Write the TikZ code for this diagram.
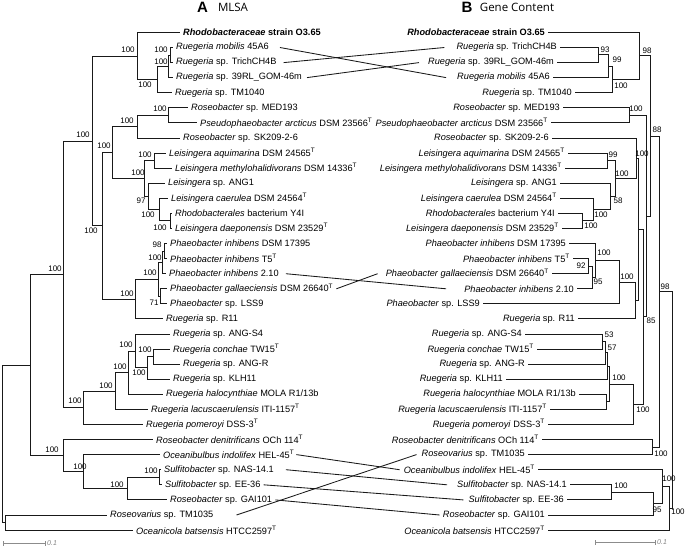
\documentclass[tikz,border=0pt]{standalone}
\usepackage{fontspec}
\setmainfont{Liberation Sans}
\newfontfamily\titlefont{Open Sans}
\newcommand{\Ty}{\textsuperscript{T}}
\begin{document}
\begin{tikzpicture}[x=1pt,y=-1pt,
  br/.style={line width=0.85pt, draw=black!90},
  cross/.style={line width=0.85pt, draw=black!90},
  lfl/.style={anchor=west, inner sep=0pt, xshift=3pt, font=\fontsize{9.2}{10}\selectfont},
  lfr/.style={anchor=east, inner sep=0pt, xshift=-3pt, font=\fontsize{9.2}{10}\selectfont},
  bs/.style={inner sep=0pt, font=\fontsize{8}{9}\selectfont},
  sbar/.style={line width=0.75pt, draw=black!45},
  sbl/.style={anchor=west, inner sep=0pt, font=\fontsize{7}{8}\selectfont\itshape, text=black!50}]
\useasboundingbox (0,0) rectangle (685,547);
% titles
\node[inner sep=0pt, font=\fontsize{15}{16}\selectfont\bfseries] (tA) at (202.5,7) {A};
\node[inner sep=0pt, font=\titlefont\fontsize{11.5}{12}\selectfont] (tAt) at (233,7.5) {MLSA};
\node[inner sep=0pt, font=\fontsize{15}{16}\selectfont\bfseries] (tB) at (467,7) {B};
\node[inner sep=0pt, font=\titlefont\fontsize{11.5}{12}\selectfont] (tBt) at (517,7.5) {Gene Content};

% ---------------- LEFT TREE (MLSA) ----------------
\coordinate (a1) at (170,55.0);
\coordinate (a2) at (168,66.3);
\coordinate (a3) at (157,79.5);
\coordinate (a4) at (137,56.0);
\coordinate (a5) at (168,115.3);
\coordinate (a6) at (137,126.7);
\coordinate (a7) at (154,160.6);
\coordinate (a8) at (170,220.9);
\coordinate (a9) at (159,209.6);
\coordinate (a10) at (148,196.4);
\coordinate (a11) at (144,178.5);
\coordinate (a12) at (112,152.6);
\coordinate (a13) at (164,251.0);
\coordinate (a14) at (162,262.4);
\coordinate (a15) at (160,296.3);
\coordinate (a16) at (158,279.3);
\coordinate (a17) at (135,299.1);
\coordinate (a18) at (102,225.9);
\coordinate (a19) at (92,141.0);
\coordinate (a20) at (153,356.6);
\coordinate (a21) at (147,367.9);
\coordinate (a22) at (135,351.0);
\coordinate (a23) at (128,372.7);
\coordinate (a24) at (115,391.0);
\coordinate (a25) at (83,407.8);
\coordinate (a26) at (63,274.4);
\coordinate (a27) at (159,477.2);
\coordinate (a28) at (127,488.6);
\coordinate (a29) at (83,471.6);
\coordinate (a30) at (63,455.6);
\coordinate (a31) at (30,365.0);
\coordinate (a32) at (5,522.5);
\coordinate (a33) at (2,443.7);

\coordinate (tL0) at (180,32.4);
\coordinate (tL1) at (173,47.5);
\coordinate (tL2) at (173,62.6);
\coordinate (tL3) at (173,77.6);
\coordinate (tL4) at (172,92.7);
\coordinate (tL5) at (188,107.8);
\coordinate (tL6) at (197,122.9);
\coordinate (tL7) at (180,138.0);
\coordinate (tL8) at (166,153.0);
\coordinate (tL9) at (172,168.1);
\coordinate (tL10) at (165,183.2);
\coordinate (tL11) at (168,198.3);
\coordinate (tL12) at (172,213.4);
\coordinate (tL13) at (172,228.4);
\coordinate (tL14) at (167,243.5);
\coordinate (tL15) at (167,258.6);
\coordinate (tL16) at (166,273.7);
\coordinate (tL17) at (167,288.8);
\coordinate (tL18) at (167,303.8);
\coordinate (tL19) at (163,318.9);
\coordinate (tL20) at (170,334.0);
\coordinate (tL21) at (170,349.1);
\coordinate (tL22) at (180,364.2);
\coordinate (tL23) at (170,379.2);
\coordinate (tL24) at (163,394.3);
\coordinate (tL25) at (148,409.4);
\coordinate (tL26) at (143,424.5);
\coordinate (tL27) at (153,439.6);
\coordinate (tL28) at (160,454.6);
\coordinate (tL29) at (161,469.7);
\coordinate (tL30) at (162,484.8);
\coordinate (tL31) at (167,499.9);
\coordinate (tL32) at (107,515.0);
\coordinate (tL33) at (133,530.0);

\draw[br] (a1) |- (tL1); \draw[br] (a1) |- (tL2);
\draw[br] (a2) |- (a1);  \draw[br] (a2) |- (tL3);
\draw[br] (a3) |- (a2);  \draw[br] (a3) |- (tL4);
\draw[br] (a4) |- (tL0); \draw[br] (a4) |- (a3);
\draw[br] (a5) |- (tL5); \draw[br] (a5) |- (tL6);
\draw[br] (a6) |- (a5);  \draw[br] (a6) |- (tL7);
\draw[br] (a7) |- (tL8); \draw[br] (a7) |- (tL9);
\draw[br] (a8) |- (tL12); \draw[br] (a8) |- (tL13);
\draw[br] (a9) |- (tL11); \draw[br] (a9) |- (a8);
\draw[br] (a10) |- (tL10); \draw[br] (a10) |- (a9);
\draw[br] (a11) |- (a7); \draw[br] (a11) |- (a10);
\draw[br] (a12) |- (a6); \draw[br] (a12) |- (a11);
\draw[br] (a13) |- (tL14); \draw[br] (a13) |- (tL15);
\draw[br] (a14) |- (a13); \draw[br] (a14) |- (tL16);
\draw[br] (a15) |- (tL17); \draw[br] (a15) |- (tL18);
\draw[br] (a16) |- (a14); \draw[br] (a16) |- (a15);
\draw[br] (a17) |- (a16); \draw[br] (a17) |- (tL19);
\draw[br] (a18) |- (a12); \draw[br] (a18) |- (a17);
\draw[br] (a19) |- (a4); \draw[br] (a19) |- (a18);
\draw[br] (a20) |- (tL21); \draw[br] (a20) |- (tL22);
\draw[br] (a21) |- (a20); \draw[br] (a21) |- (tL23);
\draw[br] (a22) |- (tL20); \draw[br] (a22) |- (a21);
\draw[br] (a23) |- (a22); \draw[br] (a23) |- (tL24);
\draw[br] (a24) |- (a23); \draw[br] (a24) |- (tL25);
\draw[br] (a25) |- (a24); \draw[br] (a25) |- (tL26);
\draw[br] (a26) |- (a19); \draw[br] (a26) |- (a25);
\draw[br] (a27) |- (tL29); \draw[br] (a27) |- (tL30);
\draw[br] (a28) |- (a27); \draw[br] (a28) |- (tL31);
\draw[br] (a29) |- (tL28); \draw[br] (a29) |- (a28);
\draw[br] (a30) |- (tL27); \draw[br] (a30) |- (a29);
\draw[br] (a31) |- (a26); \draw[br] (a31) |- (a30);
\draw[br] (a32) |- (tL32); \draw[br] (a32) |- (tL33);
\draw[br] (a33) |- (a31); \draw[br] (a33) |- (a32);

\node[lfl] (L0) at (tL0) {\textbf{\textit{Rhodobacteraceae} strain O3.65}};
\node[lfl] (L1) at (tL1) {\textit{Ruegeria mobilis} 45A6};
\node[lfl] (L2) at (tL2) {\textit{Ruegeria} sp. TrichCH4B};
\node[lfl] (L3) at (tL3) {\textit{Ruegeria} sp. 39RL\_GOM-46m};
\node[lfl] (L4) at (tL4) {\textit{Ruegeria} sp. TM1040};
\node[lfl] (L5) at (tL5) {\textit{Roseobacter} sp. MED193};
\node[lfl] (L6) at (tL6) {\textit{Pseudophaeobacter arcticus} DSM 23566\Ty};
\node[lfl] (L7) at (tL7) {\textit{Roseobacter} sp. SK209-2-6};
\node[lfl] (L8) at (tL8) {\textit{Leisingera aquimarina} DSM 24565\Ty};
\node[lfl] (L9) at (tL9) {\textit{Leisingera methylohalidivorans} DSM 14336\Ty};
\node[lfl] (L10) at (tL10) {\textit{Leisingera} sp. ANG1};
\node[lfl] (L11) at (tL11) {\textit{Leisingera caerulea} DSM 24564\Ty};
\node[lfl] (L12) at (tL12) {\textit{Rhodobacterales} bacterium Y4I};
\node[lfl] (L13) at (tL13) {\textit{Leisingera daeponensis} DSM 23529\Ty};
\node[lfl] (L14) at (tL14) {\textit{Phaeobacter inhibens} DSM 17395};
\node[lfl] (L15) at (tL15) {\textit{Phaeobacter inhibens} T5\Ty};
\node[lfl] (L16) at (tL16) {\textit{Phaeobacter inhibens} 2.10};
\node[lfl] (L17) at (tL17) {\textit{Phaeobacter gallaeciensis} DSM 26640\Ty};
\node[lfl] (L18) at (tL18) {\textit{Phaeobacter} sp. LSS9};
\node[lfl] (L19) at (tL19) {\textit{Ruegeria} sp. R11};
\node[lfl] (L20) at (tL20) {\textit{Ruegeria} sp. ANG-S4};
\node[lfl] (L21) at (tL21) {\textit{Ruegeria conchae} TW15\Ty};
\node[lfl] (L22) at (tL22) {\textit{Ruegeria} sp. ANG-R};
\node[lfl] (L23) at (tL23) {\textit{Ruegeria} sp. KLH11};
\node[lfl] (L24) at (tL24) {\textit{Ruegeria halocynthiae} MOLA R1/13b};
\node[lfl] (L25) at (tL25) {\textit{Ruegeria lacuscaerulensis} ITI-1157\Ty};
\node[lfl] (L26) at (tL26) {\textit{Ruegeria pomeroyi} DSS-3\Ty};
\node[lfl] (L27) at (tL27) {\textit{Roseobacter denitrificans} OCh 114\Ty};
\node[lfl] (L28) at (tL28) {\textit{Oceanibulbus indolifex} HEL-45\Ty};
\node[lfl] (L29) at (tL29) {\textit{Sulfitobacter} sp. NAS-14.1};
\node[lfl] (L30) at (tL30) {\textit{Sulfitobacter} sp. EE-36};
\node[lfl] (L31) at (tL31) {\textit{Roseobacter} sp. GAI101};
\node[lfl] (L32) at (tL32) {\textit{Roseovarius} sp. TM1035};
\node[lfl] (L33) at (tL33) {\textit{Oceanicola batsensis} HTCC2597\Ty};

% left bootstrap values
\node[bs] (p4) at (128,50) {100};
\node[bs] (p1) at (161,50) {100};
\node[bs] (p2) at (161,62) {100};
\node[bs] (p3) at (145,85) {100};
\node[bs] (p19) at (83,135) {100};
\node[bs] (p6) at (127,121) {100};
\node[bs] (p5) at (160,109) {100};
\node[bs] (p12) at (104,146) {100};
\node[bs] (p7) at (145,155) {100};
\node[bs] (p11) at (138,173) {100};
\node[bs] (p10) at (141,201) {97};
\node[bs] (p9) at (148,215) {100};
\node[bs] (p8) at (160,228) {100};
\node[bs] (p13) at (157,245) {98};
\node[bs] (p14) at (155,258) {100};
\node[bs] (p16) at (150,273) {100};
\node[bs] (p15) at (154,303) {71};
\node[bs] (p17) at (127,294) {100};
\node[bs] (p18) at (91,231) {100};
\node[bs] (p26) at (55,269) {100};
\node[bs] (p25) at (75,401) {100};
\node[bs] (p24) at (106,386) {100};
\node[bs] (p23) at (120,367) {100};
\node[bs] (p22) at (126,345) {100};
\node[bs] (p20) at (145,350) {100};
\node[bs] (p21) at (139,373) {100};
\node[bs] (p30) at (52,450) {100};
\node[bs] (p29) at (80,467) {100};
\node[bs] (p28) at (117,485) {100};
\node[bs] (p27) at (151,471) {100};

% ---------------- RIGHT TREE (Gene content) ----------------
\coordinate (b1) at (598,54.7);
\coordinate (b2) at (608,66.0);
\coordinate (b3) at (612,79.3);
\coordinate (b4) at (639,55.9);
\coordinate (b5) at (629,115.3);
\coordinate (b6) at (607,160.6);
\coordinate (b7) at (582,220.9);
\coordinate (b8) at (593,209.6);
\coordinate (b9) at (610,196.4);
\coordinate (b10) at (615,178.5);
\coordinate (b11) at (636,158.3);
\coordinate (b12) at (588,266.1);
\coordinate (b13) at (592,277.4);
\coordinate (b14) at (595,260.5);
\coordinate (b15) at (619,282.2);
\coordinate (b16) at (635,300.5);
\coordinate (b17) at (638,229.4);
\coordinate (b18) at (602,341.5);
\coordinate (b19) at (605,352.8);
\coordinate (b20) at (607,366.0);
\coordinate (b21) at (606,401.9);
\coordinate (b22) at (609,384.0);
\coordinate (b23) at (633,404.2);
\coordinate (b24) at (643,316.8);
\coordinate (b25) at (646,216.0);
\coordinate (b26) at (650,136.0);
\coordinate (b27) at (652,447.1);
\coordinate (b28) at (659,291.5);
\coordinate (b29) at (611,492.3);
\coordinate (b30) at (653,503.6);
\coordinate (b31) at (662,486.7);
\coordinate (b32) at (669,508.4);
\coordinate (b33) at (672,400.0);

\coordinate (tR0) at (548,32.4);
\coordinate (tR1) at (560,47.5);
\coordinate (tR2) at (557,62.6);
\coordinate (tR3) at (553,77.6);
\coordinate (tR4) at (575,92.7);
\coordinate (tR5) at (563,107.8);
\coordinate (tR6) at (551,122.9);
\coordinate (tR7) at (552,138.0);
\coordinate (tR8) at (568,153.0);
\coordinate (tR9) at (565,168.1);
\coordinate (tR10) at (560,183.2);
\coordinate (tR11) at (560,198.3);
\coordinate (tR12) at (558,213.4);
\coordinate (tR13) at (562,228.4);
\coordinate (tR14) at (569,243.5);
\coordinate (tR15) at (573,258.6);
\coordinate (tR16) at (552,273.7);
\coordinate (tR17) at (577,288.8);
\coordinate (tR18) at (483,303.8);
\coordinate (tR19) at (578,318.9);
\coordinate (tR20) at (525,334.0);
\coordinate (tR21) at (537,349.1);
\coordinate (tR22) at (528,364.2);
\coordinate (tR23) at (506,379.2);
\coordinate (tR24) at (579,394.3);
\coordinate (tR25) at (550,409.4);
\coordinate (tR26) at (548,424.5);
\coordinate (tR27) at (542,439.6);
\coordinate (tR28) at (528,454.6);
\coordinate (tR29) at (538,469.7);
\coordinate (tR30) at (570,484.8);
\coordinate (tR31) at (567,499.9);
\coordinate (tR32) at (548,515.0);
\coordinate (tR33) at (548,530.0);

\draw[br] (b1) |- (tR1); \draw[br] (b1) |- (tR2);
\draw[br] (b2) |- (b1);  \draw[br] (b2) |- (tR3);
\draw[br] (b3) |- (b2);  \draw[br] (b3) |- (tR4);
\draw[br] (b4) |- (tR0); \draw[br] (b4) |- (b3);
\draw[br] (b5) |- (tR5); \draw[br] (b5) |- (tR6);
\draw[br] (b6) |- (tR8); \draw[br] (b6) |- (tR9);
\draw[br] (b7) |- (tR12); \draw[br] (b7) |- (tR13);
\draw[br] (b8) |- (tR11); \draw[br] (b8) |- (b7);
\draw[br] (b9) |- (tR10); \draw[br] (b9) |- (b8);
\draw[br] (b10) |- (b6); \draw[br] (b10) |- (b9);
\draw[br] (b11) |- (tR7); \draw[br] (b11) |- (b10);
\draw[br] (b12) |- (tR15); \draw[br] (b12) |- (tR16);
\draw[br] (b13) |- (b12); \draw[br] (b13) |- (tR17);
\draw[br] (b14) |- (tR14); \draw[br] (b14) |- (b13);
\draw[br] (b15) |- (b14); \draw[br] (b15) |- (tR18);
\draw[br] (b16) |- (b15); \draw[br] (b16) |- (tR19);
\draw[br] (b17) |- (b11); \draw[br] (b17) |- (b16);
\draw[br] (b18) |- (tR20); \draw[br] (b18) |- (tR21);
\draw[br] (b19) |- (b18); \draw[br] (b19) |- (tR22);
\draw[br] (b20) |- (b19); \draw[br] (b20) |- (tR23);
\draw[br] (b21) |- (tR24); \draw[br] (b21) |- (tR25);
\draw[br] (b22) |- (b20); \draw[br] (b22) |- (b21);
\draw[br] (b23) |- (b22); \draw[br] (b23) |- (tR26);
\draw[br] (b24) |- (b17); \draw[br] (b24) |- (b23);
\draw[br] (b25) |- (b5); \draw[br] (b25) |- (b24);
\draw[br] (b26) |- (b4); \draw[br] (b26) |- (b25);
\draw[br] (b27) |- (tR27); \draw[br] (b27) |- (tR28);
\draw[br] (b28) |- (b26); \draw[br] (b28) |- (b27);
\draw[br] (b29) |- (tR30); \draw[br] (b29) |- (tR31);
\draw[br] (b30) |- (b29); \draw[br] (b30) |- (tR32);
\draw[br] (b31) |- (tR29); \draw[br] (b31) |- (b30);
\draw[br] (b32) |- (b31); \draw[br] (b32) |- (tR33);
\draw[br] (b33) |- (b28); \draw[br] (b33) |- (b32);

\node[lfr] (R0) at (tR0) {\textbf{\textit{Rhodobacteraceae} strain O3.65}};
\node[lfr] (R1) at (tR1) {\textit{Ruegeria} sp. TrichCH4B};
\node[lfr] (R2) at (tR2) {\textit{Ruegeria} sp. 39RL\_GOM-46m};
\node[lfr] (R3) at (tR3) {\textit{Ruegeria mobilis} 45A6};
\node[lfr] (R4) at (tR4) {\textit{Ruegeria} sp. TM1040};
\node[lfr] (R5) at (tR5) {\textit{Roseobacter} sp. MED193};
\node[lfr] (R6) at (tR6) {\textit{Pseudophaeobacter arcticus} DSM 23566\Ty};
\node[lfr] (R7) at (tR7) {\textit{Roseobacter} sp. SK209-2-6};
\node[lfr] (R8) at (tR8) {\textit{Leisingera aquimarina} DSM 24565\Ty};
\node[lfr] (R9) at (tR9) {\textit{Leisingera methylohalidivorans} DSM 14336\Ty};
\node[lfr] (R10) at (tR10) {\textit{Leisingera} sp. ANG1};
\node[lfr] (R11) at (tR11) {\textit{Leisingera caerulea} DSM 24564\Ty};
\node[lfr] (R12) at (tR12) {\textit{Rhodobacterales} bacterium Y4I};
\node[lfr] (R13) at (tR13) {\textit{Leisingera daeponensis} DSM 23529\Ty};
\node[lfr] (R14) at (tR14) {\textit{Phaeobacter inhibens} DSM 17395};
\node[lfr] (R15) at (tR15) {\textit{Phaeobacter inhibens} T5\Ty};
\node[lfr] (R16) at (tR16) {\textit{Phaeobacter gallaeciensis} DSM 26640\Ty};
\node[lfr] (R17) at (tR17) {\textit{Phaeobacter inhibens} 2.10};
\node[lfr] (R18) at (tR18) {\textit{Phaeobacter} sp. LSS9};
\node[lfr] (R19) at (tR19) {\textit{Ruegeria} sp. R11};
\node[lfr] (R20) at (tR20) {\textit{Ruegeria} sp. ANG-S4};
\node[lfr] (R21) at (tR21) {\textit{Ruegeria conchae} TW15\Ty};
\node[lfr] (R22) at (tR22) {\textit{Ruegeria} sp. ANG-R};
\node[lfr] (R23) at (tR23) {\textit{Ruegeria} sp. KLH11};
\node[lfr] (R24) at (tR24) {\textit{Ruegeria halocynthiae} MOLA R1/13b};
\node[lfr] (R25) at (tR25) {\textit{Ruegeria lacuscaerulensis} ITI-1157\Ty};
\node[lfr] (R26) at (tR26) {\textit{Ruegeria pomeroyi} DSS-3\Ty};
\node[lfr] (R27) at (tR27) {\textit{Roseobacter denitrificans} OCh 114\Ty};
\node[lfr] (R28) at (tR28) {\textit{Roseovarius} sp. TM1035};
\node[lfr] (R29) at (tR29) {\textit{Oceanibulbus indolifex} HEL-45\Ty};
\node[lfr] (R30) at (tR30) {\textit{Sulfitobacter} sp. NAS-14.1};
\node[lfr] (R31) at (tR31) {\textit{Sulfitobacter} sp. EE-36};
\node[lfr] (R32) at (tR32) {\textit{Roseobacter} sp. GAI101};
\node[lfr] (R33) at (tR33) {\textit{Oceanicola batsensis} HTCC2597\Ty};

% right bootstrap values
\node[bs] (q1) at (605,50) {93};
\node[bs] (q2) at (617,60) {99};
\node[bs] (q3) at (621,86) {100};
\node[bs] (q4) at (647,50.5) {98};
\node[bs] (q5) at (636,109) {100};
\node[bs] (q26) at (657,130) {88};
\node[bs] (q6) at (613,155) {99};
\node[bs] (q10) at (622,174) {100};
\node[bs] (q11) at (642,154) {100};
\node[bs] (q9) at (618,201) {58};
\node[bs] (q8) at (601,215) {100};
\node[bs] (q7) at (591,226) {100};
\node[bs] (q14) at (604,253) {100};
\node[bs] (q12) at (581,266) {92};
\node[bs] (q13) at (598,282) {95};
\node[bs] (q15) at (627,277) {100};
\node[bs] (q24) at (651,321) {85};
\node[bs] (q28) at (665,287) {98};
\node[bs] (q18) at (609,335) {53};
\node[bs] (q19) at (612,348) {57};
\node[bs] (q22) at (619,378) {100};
\node[bs] (q23) at (643,410) {100};
\node[bs] (q27) at (661,454) {100};
\node[bs] (q29) at (621,486) {100};
\node[bs] (q30) at (657,510) {95};
\node[bs] (q31) at (669,479) {100};
\node[bs] (q32) at (678,512) {100};

% ---------------- connectors between the trees ----------------
\draw[cross] ([xshift=11pt]L1.east) -- ([xshift=-11pt]R3.west);
\draw[cross] ([xshift=7pt]L2.east) -- ([xshift=-12pt]R1.west);
\draw[cross] ([xshift=5pt]L3.east) -- ([xshift=-9pt]R2.west);
\draw[cross] ([xshift=7pt]L16.east) -- ([xshift=-18pt]R17.west);
\draw[cross] ([xshift=3pt]L17.east) -- ([xshift=-8pt]R16.west);
\draw[cross] ([xshift=2pt]L28.east) -- ([xshift=-4pt]R29.west);
\draw[cross] ([xshift=12pt]L29.east) -- ([xshift=-10pt]R30.west);
\draw[cross] ([xshift=3pt]L30.east) -- ([xshift=-5pt]R31.west);
\draw[cross] ([xshift=3pt]L31.east) -- ([xshift=-3pt]R32.west);
\draw[cross] ([xshift=23pt]L32.east) -- ([xshift=-5pt]R28.west);

% ---------------- scale bars ----------------
\coordinate (s1a) at (3,543); \coordinate (s1b) at (45,543);
\draw[sbar] (s1a) -- (s1b);
\draw[sbar] ([yshift=-2.5pt]s1a) -- ([yshift=2.5pt]s1a);
\draw[sbar] ([yshift=-2.5pt]s1b) -- ([yshift=2.5pt]s1b);
\node[sbl] (s1l) at ([xshift=2pt]s1b) {0.1};
\coordinate (s2a) at (595,542); \coordinate (s2b) at (655,542);
\draw[sbar] (s2a) -- (s2b);
\draw[sbar] ([yshift=-2.5pt]s2a) -- ([yshift=2.5pt]s2a);
\draw[sbar] ([yshift=-2.5pt]s2b) -- ([yshift=2.5pt]s2b);
\node[sbl] (s2l) at ([xshift=2pt]s2b) {0.1};
\end{tikzpicture}
\end{document}
